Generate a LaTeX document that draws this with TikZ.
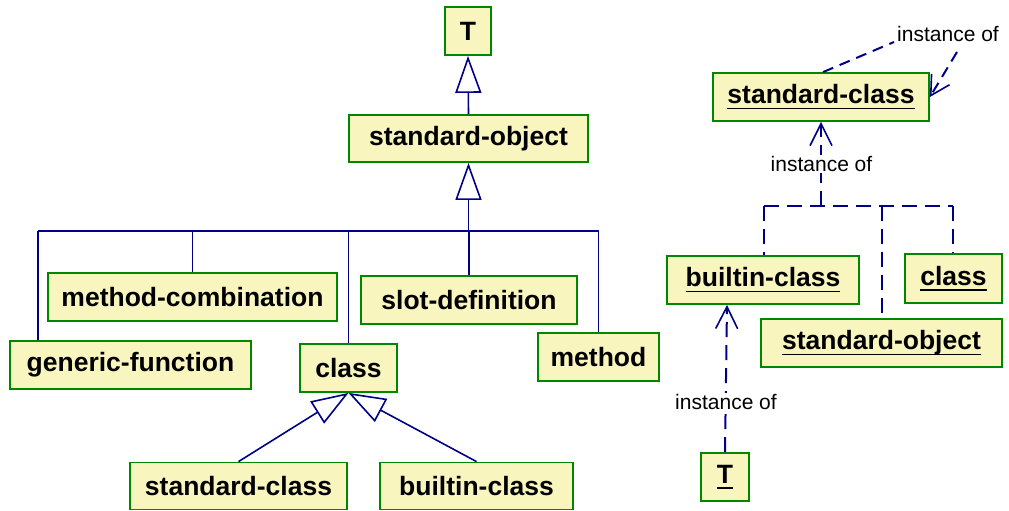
\documentclass[tikz,border=0pt]{standalone}
\usepackage{fontspec}
\setmainfont{Liberation Sans}
\usetikzlibrary{arrows.meta}
\definecolor{boxfill}{RGB}{248,245,190}
\definecolor{boxline}{RGB}{0,135,0}
\definecolor{linkcol}{RGB}{0,0,135}
% underlined object name (instance)
\newcommand\objname[1]{\setbox0\hbox{#1}\rlap{\copy0}\rule[-5.5pt]{\wd0}{1.4pt}}
\tikzset{
  cls/.style={draw=boxline, fill=boxfill, line width=1.8pt, inner sep=0pt,
    font=\fontsize{26.5}{30}\selectfont\bfseries, text=black},
  gen/.style={draw=linkcol, line width=1.6pt},
  genhead/.style={-{Triangle[open, length=37pt, width=26pt, fill=white, line width=1.6pt]}},
  inst/.style={draw=linkcol, line width=2pt, dash pattern=on 15pt off 8pt},
  insthead/.style={-{Straight Barb[length=22pt, width=22pt, line width=1.6pt]}},
  lbl/.style={font=\fontsize{21}{24}\selectfont, inner sep=1pt, text=black},
}
\begin{document}
\begin{tikzpicture}[x=1pt, y=-1pt]
\useasboundingbox (0,0) rectangle (1009,511);

% class hierarchy
\node[cls, minimum width=46pt, minimum height=48pt] (tl) at (468,31) {T};
\node[cls, minimum width=239pt, minimum height=47pt] (so) at (468.5,138.5) {standard-object};
\node[cls, minimum width=289pt, minimum height=48pt] (mc) at (192.5,297) {method-combination};
\node[cls, minimum width=216pt, minimum height=48pt] (sd) at (469,300) {slot-definition};
\node[cls, minimum width=241pt, minimum height=48pt] (gf) at (130.5,365) {generic-function};
\node[cls, minimum width=97pt, minimum height=48pt] (cl) at (348.5,368) {class};
\node[cls, minimum width=121pt, minimum height=48pt] (me) at (598.5,357) {method};
\node[cls, minimum width=217pt, minimum height=47pt] (scl) at (238.5,486) {standard-class};
\node[cls, minimum width=193pt, minimum height=47pt] (bcl) at (476.5,486) {builtin-class};

\coordinate (busL) at (38,231);
\coordinate (busR) at (599,231);

\draw[gen, genhead] (so.north) -- (tl.south);
\draw[gen] (busL) -- (busR);
\draw[gen, genhead] (so.south |- busL) -- (so.south);
\draw[gen] (busL) -- (busL |- gf.north);
\draw[gen] (mc.north |- busL) -- (mc.north);
\draw[gen] (cl.north |- busL) -- (cl.north);
\draw[gen] (sd.north |- busL) -- (sd.north);
\draw[gen] (me.north |- busL) -- (me.north);
\draw[gen, genhead] (scl.north) -- (cl.south);
\draw[gen, genhead] (bcl.north) -- (cl.south);

% instances
\node[cls, minimum width=216pt, minimum height=48pt] (sc2) at (821,97) {\objname{standard-class}};
\node[cls, minimum width=192pt, minimum height=48pt] (bc2) at (763,280) {\objname{builtin-class}};
\node[cls, minimum width=97pt, minimum height=49pt] (cl2) at (953.5,278.5) {\objname{class}};
\node[cls, minimum width=241pt, minimum height=48pt] (so2) at (881.5,343) {\objname{standard-object}};
\node[cls, minimum width=48pt, minimum height=48pt] (t2) at (725,477) {\objname{T}};

\coordinate (ibL) at (764,206);
\coordinate (ibR) at (953,206);
\coordinate (ibM) at (821,206);

\draw[inst] (ibL) -- (ibR);
\draw[inst] (ibL) -- (ibL |- bc2.north);
\draw[inst] (so2.north |- ibL) -- (so2.north);
\draw[inst] (ibR) -- (ibR |- cl2.north);
\draw[inst, insthead] (ibM) -- (sc2.south);
\node[lbl, fill=white] (ioB) at (821.5,164) {instance of};

% self instance loop of standard-class
\node[lbl] (ioA) at (948,34) {instance of};
\draw[inst, dash pattern=on 11pt off 7pt] ([xshift=2pt]sc2.north) -- ([xshift=-2pt,yshift=-8pt]ioA.west);
\draw[inst, dash pattern=on 11pt off 7pt, -{Straight Barb[length=19pt, width=21pt, line width=1.6pt]}]
  ([xshift=9pt,yshift=-18pt]ioA.center) -- (sc2.east);

\draw[inst, insthead] (t2.north) -- ([xshift=-36pt]bc2.south);
\node[lbl, fill=white] (ioC) at (726,402) {instance of};
\end{tikzpicture}
\end{document}
